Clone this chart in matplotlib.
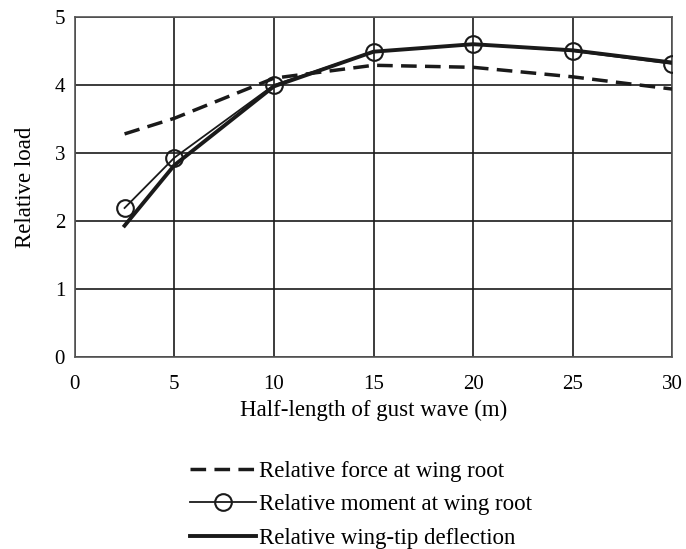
import matplotlib
matplotlib.use("Agg")
import matplotlib.pyplot as plt

plt.rcParams["font.family"] = ["Liberation Serif", "DejaVu Serif"]

# ===============================
# DATA
# ===============================
half_length = [2.5, 5, 10, 15, 20, 25, 30]
force_root = [3.28, 3.51, 4.10, 4.29, 4.26, 4.12, 3.94]
moment_root = [2.19, 2.93, 4.00, 4.49, 4.60, 4.50, 4.31]
tip_deflection = [1.93, 2.82, 3.98, 4.49, 4.60, 4.51, 4.33]

x_ticks = [0, 5, 10, 15, 20, 25, 30]
y_ticks = [0, 1, 2, 3, 4, 5]

# ===============================
# PLOT
# ===============================
fig = plt.figure(figsize=(6.86, 5.49), dpi=100)
ax = fig.add_axes([0.109, 0.35, 0.871, 0.619])

ax.plot(half_length, force_root, color="#1a1a1a", linestyle=(0, (4.5, 2.4)),
        linewidth=2.5, label="Relative force at wing root", zorder=3)
ax.plot(half_length, moment_root, color="#1a1a1a", linewidth=1.3, marker="o",
        markersize=12, markerfacecolor="none", markeredgewidth=1.5,
        label="Relative moment at wing root", zorder=4)
ax.plot(half_length, tip_deflection, color="#1a1a1a", linewidth=2.8,
        label="Relative wing-tip deflection", zorder=3)

ax.set_xlim(0, 30)
ax.set_ylim(0, 5)
ax.set_xticks(x_ticks)
ax.set_yticks(y_ticks)
ax.grid(True, color="#1a1a1a", linewidth=1.2)
ax.set_axisbelow(True)
for s in ax.spines.values():
    s.set_color("#555555")
    s.set_linewidth(1.2)
ax.tick_params(axis="x", length=0, labelsize=15, pad=13)
ax.tick_params(axis="y", length=0, labelsize=15, pad=7)

ax.set_xlabel("Half-length of gust wave (m)", fontsize=16.5, labelpad=4)
ax.set_ylabel("Relative load", fontsize=16.5, labelpad=13)

ax.legend(loc="upper center", bbox_to_anchor=(0.479, -0.245), frameon=False,
          fontsize=16.5, handlelength=2.85, handletextpad=0.12, labelspacing=0.55)

fig.savefig("out.png", dpi=100)
